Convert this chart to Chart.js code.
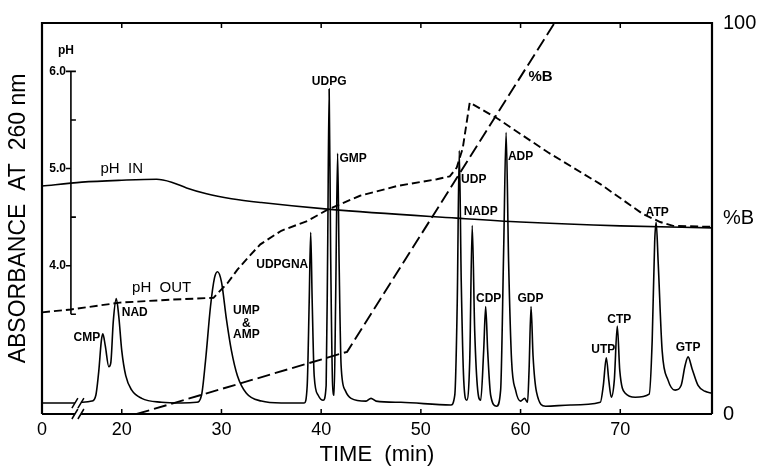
<!DOCTYPE html>
<html>
<head>
<meta charset="utf-8">
<script src="https://cdn.jsdelivr.net/npm/chart.js@4.4.1/dist/chart.umd.min.js"></script>
<style>
html,body{margin:0;padding:0;background:#fff;}
canvas{display:block;}
</style>
</head>
<body>
<canvas id="chart" width="762" height="468"></canvas>
<script>
// time axis (min); the axis is broken after 0, so the first tick reads "0"
const xTicks=[12,20,30,40,50,60,70];
const xTickLabels=['0','20','30','40','50','60','70'];
const breakT=15.6;
const pbTicks=[0,50,100];
const pbTickLabels=['0','%B','100'];
const phTicks=[3.5,4.0,4.5,5.0,5.5,6.0];
const phTickLabels=['','4.0','','5.0','','6.0'];

// absorbance at 260 nm (relative)
const absT=[12,15.3,15.6,15.9,17.0,17.4,17.7,17.95,18.1,18.35,
  18.7,18.9,19.15,19.45,19.7,20.0,20.4,21.0,22.0,24.0,
  26.0,27.5,28.0,28.4,28.9,29.3,29.6,30.0,30.5,31.0,
  31.6,32.5,34.0,36.0,38.3,38.6,38.8,38.95,39.1,39.3,
  39.7,40.2,40.5,40.65,40.8,40.95,41.15,41.3,41.45,41.65,
  41.8,42.0,42.4,43.0,44.5,45.0,45.5,48.0,53.0,53.4,
  53.65,53.85,54.05,54.3,54.6,54.9,55.15,55.4,55.7,56.0,
  56.3,56.5,56.7,57.0,57.6,58.0,58.3,58.55,58.8,59.1,
  59.5,60.0,60.4,60.7,60.85,61.05,61.25,61.6,62.5,65.0,
  68.0,68.3,68.6,68.85,69.1,69.4,69.7,69.95,70.5,71.5,
  72.9,73.2,73.45,73.6,73.8,74.2,74.8,75.5,76.1,76.5,
  76.8,77.2,77.8,78.5,79.2];
const absA=[0.028,0.028,null,0.030,0.033,0.048,0.111,0.187,0.205,0.174,
  0.121,0.131,0.237,0.295,0.250,0.162,0.098,0.061,0.040,0.030,
  0.028,0.030,0.048,0.136,0.275,0.348,0.364,0.338,0.242,0.162,
  0.098,0.053,0.033,0.028,0.028,0.073,0.288,0.465,0.288,0.098,
  0.048,0.035,0.073,0.414,0.831,0.414,0.073,0.048,0.288,0.667,
  0.389,0.124,0.061,0.040,0.033,0.040,0.033,0.030,0.023,0.048,
  0.288,0.674,0.338,0.086,0.035,0.136,0.482,0.212,0.061,0.035,
  0.162,0.275,0.162,0.048,0.020,0.061,0.414,0.720,0.389,0.136,
  0.061,0.033,0.040,0.030,0.111,0.275,0.149,0.056,0.020,0.023,
  0.030,0.073,0.144,0.086,0.043,0.086,0.225,0.111,0.053,0.043,
  0.051,0.187,0.440,0.490,0.389,0.162,0.086,0.061,0.073,0.124,
  0.146,0.116,0.073,0.058,0.053];

// pH in / pH out
const phInT=[12,16,20,23.5,25,26.5,28.5,31,34,40.9,53.6,60,70,79.2];
const phInV=[4.82,4.86,4.88,4.89,4.86,4.80,4.74,4.69,4.65,4.58,4.49,4.45,4.41,4.39];
const phOutT=[12,14.9,19.8,24.8,29.2,29.65,30.6,31.6,32.8,33.9,
  36.0,38.6,40.7,43.9,47.6,51.6,52.9,53.6,54.2,54.9,
  57.6,62.7,68.0,72.3,74.0,75.3,79.2];
const phOutV=[3.52,3.55,3.62,3.65,3.67,3.72,3.82,3.96,4.10,4.22,
  4.36,4.46,4.58,4.72,4.82,4.89,4.92,5.01,5.21,5.68,
  5.52,5.17,4.84,4.53,4.45,4.41,4.40];

// gradient, % B
const gradT=[21.5,42.6,63.4];
const gradB=[0,15.9,100];

const pts=(xs,ys)=>xs.map((x,i)=>({x:x,y:ys[i]}));

// peak and curve labels (anchored in data units)
const notes=[
  {text:'CMP',t:16.5,a:0.194},{text:'NAD',t:21.3,a:0.258},
  {text:'UMP',t:32.5,a:0.263},{text:'&',t:32.5,a:0.232},{text:'AMP',t:32.5,a:0.202},
  {text:'UDPGNA',t:36.1,a:0.381},{text:'UDPG',t:40.8,a:0.851},
  {text:'GMP',t:43.2,a:0.652},{text:'UDP',t:55.3,a:0.598},
  {text:'NADP',t:56.0,a:0.518},{text:'CDP',t:56.8,a:0.295},
  {text:'ADP',t:60.0,a:0.657},{text:'GDP',t:61.0,a:0.295},
  {text:'UTP',t:68.3,a:0.164},{text:'CTP',t:69.9,a:0.242},
  {text:'ATP',t:73.7,a:0.515},{text:'GTP',t:76.8,a:0.169}
];
const bigNotes=[
  {text:'pH  IN',t:20.0,a:0.626},{text:'pH  OUT',t:24.0,a:0.323},
  {text:'%B',t:62.0,a:0.861,bold:true}
];

const FONT='"Liberation Sans", Arial, sans-serif';

const framePlugin={
  id:'frame',
  afterDraw(chart){
    const {ctx,chartArea:{left,right,top,bottom},scales:{x,abs,ph}}=chart;
    ctx.save();
    ctx.strokeStyle='#000';
    ctx.fillStyle='#000';
    ctx.lineWidth=2.2;
    ctx.beginPath();
    ctx.moveTo(left,bottom);ctx.lineTo(left,top);ctx.lineTo(right,top);ctx.lineTo(right,bottom);
    const bx=x.getPixelForValue(breakT);
    ctx.moveTo(left,bottom);ctx.lineTo(bx-3,bottom);
    ctx.moveTo(bx+3,bottom);ctx.lineTo(right,bottom);
    ctx.stroke();
    // inward ticks top and bottom
    ctx.lineWidth=1.5;
    ctx.beginPath();
    xTicks.slice(1).forEach(v=>{
      const px=x.getPixelForValue(v);
      ctx.moveTo(px,top);ctx.lineTo(px,top+5);
      ctx.moveTo(px,bottom);ctx.lineTo(px,bottom-5);
    });
    ctx.stroke();
    // axis break marks
    ctx.beginPath();
    [bottom,abs.getPixelForValue(absA[0])].forEach(y=>{
      [-3,3].forEach(d=>{ctx.moveTo(bx+d-3,y+5);ctx.lineTo(bx+d+3,y-5);});
    });
    ctx.stroke();
    // pH inset axis
    const px=x.getPixelForValue(14.9);
    const y0=ph.getPixelForValue(phTicks[0]),y1=ph.getPixelForValue(phTicks[phTicks.length-1]);
    ctx.lineWidth=1.6;
    ctx.beginPath();
    ctx.moveTo(px,y0);ctx.lineTo(px,y1);
    phTicks.forEach((v,i)=>{
      const py=ph.getPixelForValue(v);
      if(phTickLabels[i]){ctx.moveTo(px-5,py);ctx.lineTo(px,py);}
      else{ctx.moveTo(px,py);ctx.lineTo(px+5,py);}
    });
    ctx.moveTo(px,y1);ctx.lineTo(px+5,y1);
    ctx.stroke();
    ctx.font='bold 12px '+FONT;
    ctx.textAlign='right';ctx.textBaseline='middle';
    phTicks.forEach((v,i)=>{
      if(phTickLabels[i]) ctx.fillText(phTickLabels[i],px-5,ph.getPixelForValue(v));
    });
    ctx.textAlign='center';
    ctx.fillText('pH',px-5,y1-21);
    // labels
    ctx.font='bold 12px '+FONT;
    notes.forEach(n=>ctx.fillText(n.text,x.getPixelForValue(n.t),abs.getPixelForValue(n.a)));
    bigNotes.forEach(n=>{
      ctx.font=(n.bold?'bold ':'')+'15px '+FONT;
      ctx.fillText(n.text,x.getPixelForValue(n.t),abs.getPixelForValue(n.a));
    });
    ctx.restore();
  }
};

new Chart(document.getElementById('chart'),{
  type:'line',
  data:{datasets:[
    {label:'A260',data:pts(absT,absA),yAxisID:'abs',borderColor:'#000',borderWidth:1.6,
      pointRadius:0,cubicInterpolationMode:'monotone',spanGaps:false},
    {label:'pH IN',data:pts(phInT,phInV),yAxisID:'ph',borderColor:'#000',borderWidth:1.6,
      pointRadius:0,cubicInterpolationMode:'monotone'},
    {label:'pH OUT',data:pts(phOutT,phOutV),yAxisID:'ph',borderColor:'#000',borderWidth:1.9,
      borderDash:[8,4],pointRadius:0,tension:0},
    {label:'%B',data:pts(gradT,gradB),yAxisID:'pb',borderColor:'#000',borderWidth:1.9,
      borderDash:[13,5],pointRadius:0,tension:0}
  ]},
  options:{
    responsive:false,animation:false,devicePixelRatio:1,
    layout:{padding:{top:18,left:0,right:0,bottom:0}},
    plugins:{legend:{display:false},tooltip:{enabled:false}},
    scales:{
      x:{type:'linear',min:12,max:79.2,
        afterBuildTicks:s=>{s.ticks=xTicks.map(v=>({value:v}));},
        ticks:{color:'#000',font:{family:FONT,size:18},padding:5,maxRotation:0,
          callback:(v,i)=>xTickLabels[i]},
        grid:{display:false,drawTicks:false},border:{display:false},
        title:{display:true,text:'TIME  (min)',color:'#000',font:{family:FONT,size:22},padding:0},
        afterFit:s=>{s.height=54;}},
      abs:{position:'left',min:0,max:1,
        ticks:{display:false},grid:{display:false,drawTicks:false},border:{display:false},
        title:{display:true,text:'ABSORBANCE  AT  260 nm',color:'#000',font:{family:FONT,size:23},padding:{top:5,bottom:0}},
        afterFit:s=>{s.width=42;}},
      pb:{position:'right',min:0,max:100,
        afterBuildTicks:s=>{s.ticks=pbTicks.map(v=>({value:v}));},
        ticks:{color:'#000',font:{family:FONT,size:20},padding:11,
          callback:(v,i)=>pbTickLabels[i]},
        grid:{display:false,drawTicks:false},border:{display:false},
        afterFit:s=>{s.width=50;}},
      ph:{display:false,min:2.474,max:6.498}
    }
  },
  plugins:[framePlugin]
});
</script>
</body>
</html>
